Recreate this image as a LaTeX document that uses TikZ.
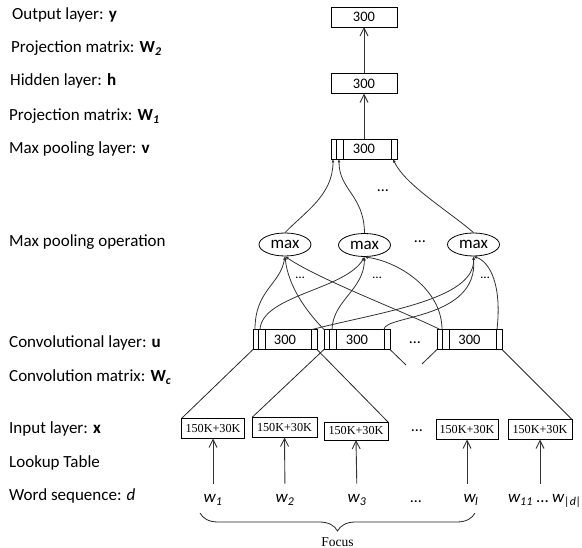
\documentclass[tikz,border=0pt]{standalone}
\usepackage{fontspec}
\setmainfont{Carlito}
\newfontfamily\seriffont{Liberation Serif}
\usetikzlibrary{arrows.meta,calc,decorations.pathreplacing,shapes.geometric}
\newcommand\cellsof[1]{%
  \draw[cell] ($(#1.north west)+(5.5,0)$) -- ($(#1.south west)+(5.5,0)$);
  \draw[cell] ($(#1.north west)+(12,0)$) -- ($(#1.south west)+(12,0)$);
  \draw[cell] ($(#1.north east)+(-6,0)$) -- ($(#1.south east)+(-6,0)$);}
\begin{document}
\begin{tikzpicture}[x=1pt,y=-1pt,
  lab/.style={anchor=base west,inner sep=0,font=\fontsize{17}{20}\selectfont},
  vbox/.style={draw,line width=0.9pt,outer sep=0,minimum height=20pt,inner sep=0,font=\fontsize{14.5}{16}\selectfont},
  inbox/.style={draw,line width=0.9pt,outer sep=0,minimum width=63pt,minimum height=20pt,inner sep=0,font=\seriffont\fontsize{12.2}{14}\selectfont},
  maxnode/.style={draw,ellipse,line width=0.8pt,minimum width=52pt,minimum height=23pt,inner sep=0,font=\fontsize{17}{20}\selectfont},
  word/.style={inner sep=0,anchor=base,font=\fontsize{17}{20}\selectfont\itshape},
  dots/.style={inner sep=0,anchor=base,font=\fontsize{16}{18}\selectfont},
  sdots/.style={inner sep=0,anchor=base,font=\fontsize{13}{16}\selectfont},
  uparr/.style={draw=black!80,line width=0.9pt,-{Straight Barb[length=8pt,width=8pt]}},
  carr/.style={draw=black!80,line width=0.8pt,-{Latex[length=3.5pt,width=3pt]}},
  link/.style={draw=black!85,line width=0.8pt},
  cell/.style={draw,line width=0.6pt}]
\useasboundingbox (0,0) rectangle (582,548);

% left labels
\node[lab] (Ly)  at (12,19.5)  {Output layer: \textbf{y}};
\node[lab] (LW2) at (11,53)    {Projection matrix: \textbf{W\textsubscript{\itshape 2}}};
\node[lab] (Lh)  at (10,86)    {Hidden layer: \textbf{h}};
\node[lab] (LW1) at (9,120.5)  {Projection matrix: \textbf{W\textsubscript{\itshape 1}}};
\node[lab] (Lv)  at (9,154)    {Max pooling layer: \textbf{v}};
\node[lab] (Lmp) at (9,247)    {Max pooling operation};
\node[lab] (Lu)  at (9,348)    {Convolutional layer: \textbf{u}};
\node[lab] (LWc) at (9,382)    {Convolution matrix: \textbf{W\textsubscript{\itshape c}}};
\node[lab] (Lx)  at (9,434)    {Input layer: \textbf{x}};
\node[lab] (Llt) at (9,468)    {Lookup Table};
\node[lab] (Lws) at (9,501)    {Word sequence: \textit{d}};

% upper boxes
\node[vbox,minimum width=66pt] (out)  at (364,17)   {300};
\node[vbox,minimum width=66pt] (hid)  at (364,83.5) {300};
\node[vbox,minimum width=66pt] (pool) at (364,149)  {300};
\cellsof{pool}
\draw[uparr] (hid) -- (out);
\draw[uparr] (pool) -- (hid);

% max nodes
\node[maxnode] (m1) at (285,244.5)   {max};
\node[maxnode] (m2) at (364.5,245)   {max};
\node[maxnode] (m3) at (473.5,244.5) {max};

% conv boxes
\node[vbox,minimum width=64pt] (c1) at (285,339.5)   {300};
\node[vbox,minimum width=66pt] (c2) at (357,339.5)   {300};
\node[vbox,minimum width=65pt] (c3) at (469.5,339.5) {300};
\cellsof{c1}\cellsof{c2}\cellsof{c3}

% max -> pool
\draw[carr] (m1.north) .. controls (305,212) and (333,195) .. ($(pool.south west)+(2,0)$);
\draw[carr] (m2.north) .. controls (364,195) and (339,190) .. ($(pool.south west)+(8,0)$);
\draw[carr] (m3.north) .. controls (450,212) and (405,185) .. ($(pool.south east)+(-4,0)$);

% conv -> max
\draw[carr] ($(c1.north west)+(2,0)$) .. controls (255,290) and (280,285) .. (m1.south);
\draw[carr] (c2.north west) .. controls (305,310) and (288,285) .. (m1.south);
\draw[carr] ($(c3.north west)+(3,0)$) .. controls (405,312) and (320,280) .. (m1.south);
\draw[carr] ($(c1.north west)+(7,0)$) .. controls (262,295) and (345,290) .. (m2.south);
\draw[carr] ($(c2.north west)+(8,0)$) .. controls (333,300) and (364,290) .. (m2.south);
\draw[carr] ($(c3.north west)+(5,0)$) .. controls (442,290) and (400,262) .. (m2.south);
\draw[carr] ($(c1.north east)+(-5,0)$) .. controls (380,312) and (475,300) .. (m3.south);
\draw[carr] ($(c2.north east)+(-6,0)$) .. controls (384,315) and (478,320) .. (m3.south);
\draw[carr] ($(c3.north east)+(-5,0)$) .. controls (502,285) and (490,262) .. (m3.south);

% dots
\node[dots]  (d1) at (383,192) {…};
\node[dots]  (d2) at (420,243) {…};
\node[sdots] (d3) at (300,279) {…};
\node[sdots] (d4) at (377,279) {…};
\node[sdots] (d5) at (485,279) {…};
\node[dots]  (d6) at (415,344) {…};
\node[dots]  (d7) at (417,432) {…};
\node[dots]  (d8) at (416,503) {…};

% input boxes
\node[inbox] (in1) at (213,428.5) {150K+30K};
\node[inbox,minimum width=65pt] (in2) at (284.5,427.5) {150K+30K};
\node[inbox,minimum width=64pt,minimum height=18pt] (in3) at (356,431) {150K+30K};
\node[inbox,minimum width=62pt] (in4) at (467,429.5) {150K+30K};
\node[inbox,minimum width=64pt] (in5) at (540,429.5) {150K+30K};

% convolution windows
\coordinate (t2) at (406,365);
\coordinate (t3) at (422,364);
\draw[link] (c1.south west) -- (in1.north west);
\draw[link] (c1.south east) -- (in3.north east);
\draw[link] (c2.south west) -- (in2.north west);
\draw[link] (c2.south east) -- (t2);
\draw[link] (c3.south west) -- (t3);
\draw[link] (c3.south east) -- (in5.north east);

% words
\node[word] (w1) at (213,503) {w\textsubscript{1}};
\node[word] (w2) at (285,503) {w\textsubscript{2}};
\node[word] (w3) at (357,503) {w\textsubscript{3}};
\node[word] (w4) at (471,503) {w\textsubscript{\kern-0.5pt l}};
\node[word] (w5) at (545,503) {w\textsubscript{11} {\upshape …} w\textsubscript{|d|}};
\draw[uparr,shorten <=11pt] (w1.north) -- (in1.south);
\draw[uparr,shorten <=11pt] (w2.north) -- (in2.south);
\draw[uparr,shorten <=11pt] (w3.north) -- (in3.south);
\draw[uparr,shorten <=11pt] (in4.south |- w4.north) -- (in4.south);
\draw[uparr,shorten <=11pt] (in5.south |- w5.north) -- (in5.south);

% brace
\coordinate (bl) at (200,513);
\coordinate (br) at (475,513);
\draw[link,decorate,decoration={brace,mirror,amplitude=18pt}] (bl) -- (br);
\node[inner sep=0,font=\seriffont\fontsize{13.5}{16}\selectfont] (focus) at (337.5,542) {Focus};
\end{tikzpicture}
\end{document}
